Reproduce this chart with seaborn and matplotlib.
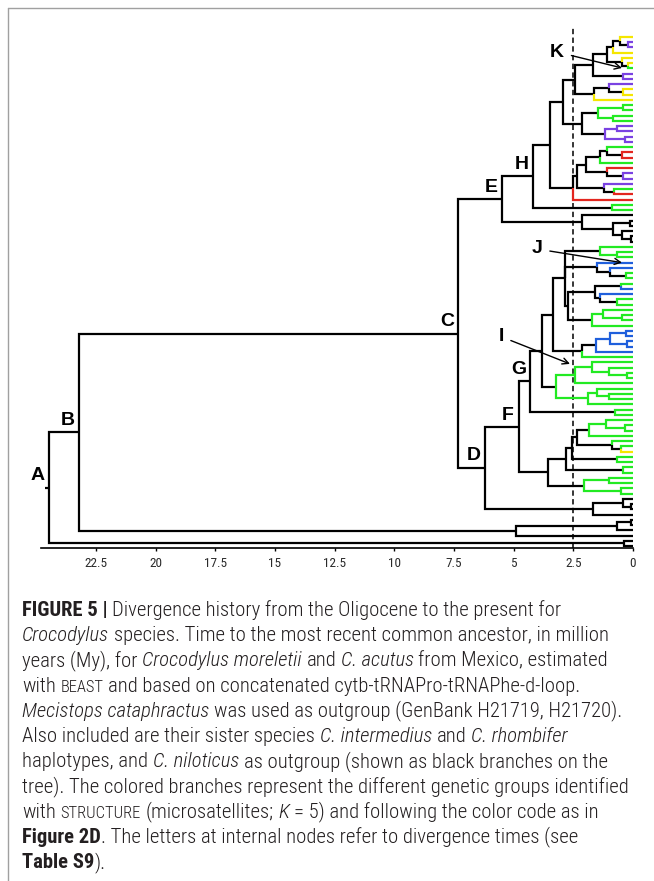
import matplotlib
matplotlib.use("Agg")
import matplotlib.pyplot as plt
from matplotlib.lines import Line2D
import seaborn as sns
import pandas as pd

# ---------------- data ----------------
# Clades in nested form: leaves are colour-group codes, ")x" is the node age in My.
clade_K = "((((y,(p,p)0.2)0.54,y)0.84,(y,(y,g)0.2)0.45)1.1,(p,p)0.4)1.68"
clade_H4 = "((p,(y,y)0.4)1.0,y)1.63"
clade_H8 = "(((g,g)0.4,(g,g)0.85)1.47,((p,p)0.65,(p,p)0.35)1.17)2.14"
clade_M = "(((((g,(r,r)0.45)1.09,g)1.38,(r,(p,p)0.4)1.09)1.97,(p,(g,r)0.8)1.2)2.35,r)2.51"
clade_H = f"(((({clade_K},{clade_H4})2.43,{clade_H8})2.93,{clade_M})3.48,(g,g)0.88)4.19"
clade_EB = "(k,((k,k)0.12,(k,(k,k)0.1)0.45)0.85)2.14"
clade_E = f"({clade_H},{clade_EB})5.49"

clade_G3 = "(g,(g,g)0.65)1.4"
clade_J = "(b,(b,(g,g)0.3)0.96)1.5"
clade_BG5 = "((g,b)0.5,(b,(g,g)0.65)1.4)1.6"
clade_G4 = "((g,(g,g)0.45)1.25,g)1.7"
clade_BG6 = "((((b,b)0.3,(b,b)0.25)0.95,b)1.55,g)2.14"
clade_I = "((g,(g,(g,g)0.25)1.0)1.7,g)2.43"
clade_G19 = "((g,(g,g)1.0)1.5,g)1.89"
clade_N285 = f"({clade_G3},{clade_J},({clade_BG5},{clade_G4})2.72)2.85"
clade_G = f"((({clade_N285},{clade_BG6})3.35,({clade_I},{clade_G19})3.22)3.81,(g,g)0.75)4.31"

clade_FB = "((((((g,(g,g)0.35)1.13,g)1.84,(g,(g,y)0.5)0.88)2.35,(g,g)0.65)2.56,(g,g)0.4)2.8,((g,g)1.0,(g,g)0.5)2.05)3.56"
clade_DB = "((k,(k,k)0.1)0.4,k)1.68"
clade_F = f"({clade_G},{clade_FB})4.78"
clade_D = f"({clade_F},{clade_DB})6.2"
clade_C = f"({clade_E},{clade_D})7.33"
clade_NIL = "(((k,k)0.1,k)0.65,k)4.9"
clade_B = f"({clade_C},{clade_NIL})23.2"
clade_MEC = "(k,k)0.38"
tree_text = f"({clade_B},{clade_MEC})24.47"

group_codes = ["k", "g", "p", "y", "r", "b"]
group_colors = ["#000000", "#22ea22", "#7a42e2", "#f5e600", "#e3261f", "#1f5fdc"]

node_labels = ["A", "B", "C", "D", "E", "F", "G", "H"]
node_label_ages = [24.47, 23.2, 7.33, 6.2, 5.49, 4.78, 4.31, 4.19]

arrow_labels = ["I", "J", "K"]
arrow_text_age = [5.53, 4.02, 3.18]
arrow_text_tip = [57.1, 40.4, 2.86]
arrow_head_age = [2.64, 0.46, 0.46]
arrow_head_tip = [62.3, 43.0, 5.9]

tick_values = [22.5, 20, 17.5, 15, 12.5, 10, 7.5, 5, 2.5, 0]
tick_labels = ["22.5", "20", "17.5", "15", "12.5", "10", "7.5", "5", "2.5", "0"]
threshold_age = 2.5
x_max_age = 24.8
root_stem = 0.17

caption_lines = [
    [("FIGURE 5 |", "b"), (" Divergence history from the Oligocene to the present for", "n")],
    [("Crocodylus", "i"), (" species. Time to the most recent common ancestor, in million", "n")],
    [("years (My), for ", "n"), ("Crocodylus moreletii", "i"), (" and ", "n"), ("C. acutus", "i"),
     (" from Mexico, estimated", "n")],
    [("with ", "n"), ("BEAST", "sc"), (" and based on concatenated cytb-tRNAPro-tRNAPhe-d-loop.", "n")],
    [("Mecistops cataphractus", "i"), (" was used as outgroup (GenBank H21719, H21720).", "n")],
    [("Also included are their sister species ", "n"), ("C. intermedius", "i"), (" and ", "n"),
     ("C. rhombifer", "i")],
    [("haplotypes, and ", "n"), ("C. niloticus", "i"), (" as outgroup (shown as black branches on the", "n")],
    [("tree). The colored branches represent the different genetic groups identified", "n")],
    [("with ", "n"), ("STRUCTURE", "sc"), (" (microsatellites; ", "n"), ("K", "i"),
     (" = 5) and following the color code as in", "n")],
    [("Figure 2D", "b"), (". The letters at internal nodes refer to divergence times (see", "n")],
    [("Table S9", "b"), (").", "n")],
]

# ---------------- parse + layout ----------------
def parse(s):
    pos = 0

    def node():
        nonlocal pos
        if s[pos] == "(":
            pos += 1
            kids = [node()]
            while s[pos] == ",":
                pos += 1
                kids.append(node())
            pos += 1  # ')'
            j = pos
            while pos < len(s) and (s[pos].isdigit() or s[pos] == "."):
                pos += 1
            return {"kids": kids, "age": float(s[j:pos])}
        g = s[pos]
        pos += 1
        return {"kids": [], "age": 0.0, "grp": g}

    return node()


root = parse(tree_text)
counter = [0]
all_nodes = []


def layout(n):
    all_nodes.append(n)
    if not n["kids"]:
        n["y"] = counter[0]
        counter[0] += 1
        n["grps"] = {n["grp"]}
    else:
        for k in n["kids"]:
            layout(k)
        n["y"] = (n["kids"][0]["y"] + n["kids"][-1]["y"]) / 2
        n["grps"] = set().union(*[k["grps"] for k in n["kids"]])
    n["mono"] = next(iter(n["grps"])) if len(n["grps"]) == 1 else "k"


layout(root)
n_tips = counter[0]

rows = []
seg = 0
for n in all_nodes:
    for c in n["kids"]:
        col = c["grp"] if not c["kids"] else n["mono"]
        for a, yy in [(n["age"], n["y"]), (n["age"], c["y"]), (c["age"], c["y"])]:
            rows.append({"seg": seg, "age": a, "y": yy, "grp": col})
        seg += 1
for a in [root["age"] + root_stem, root["age"]]:
    rows.append({"seg": seg, "age": a, "y": root["y"], "grp": "k"})
df = pd.DataFrame(rows)

# ---------------- figure ----------------
sns.set_theme(style="white")
plt.rcParams["font.family"] = ["Liberation Sans", "DejaVu Sans"]
cond = ["Roboto Condensed", "Liberation Sans", "DejaVu Sans"]

W, H = 654, 881
fig = plt.figure(figsize=(W / 100, H / 100), dpi=100)
ax = fig.add_axes([41 / W, 1 - 548 / H, (633 - 41) / W, (548 - 28) / H])

pal = dict(zip(group_codes, group_colors))
present = [g for g in group_codes if g in set(df["grp"])]
sns.lineplot(data=df, x="age", y="y", hue="grp", units="seg", estimator=None, sort=False,
             palette=pal, hue_order=present, legend=False, lw=1.6, ax=ax)
for ln in ax.lines:
    ln.set_clip_on(False)
    ln.set_solid_joinstyle("miter")
    ln.set_solid_capstyle("butt")

ax.axvline(threshold_age, color="black", lw=1.1, ls=(0, (3.5, 2.2)), zorder=0)

s = (546 - 37) / (n_tips - 1)
ax.set_ylim((548 - 37) / s, (28 - 37) / s)
ax.set_xlim(x_max_age, 0)
ax.set_xlabel("")
ax.set_ylabel("")
ax.set_yticks([])
ax.set_xticks(tick_values)
ax.set_xticklabels(tick_labels, family=cond, fontsize=9.5, color="#2a2a2a")
ax.tick_params(axis="x", length=2.5, width=1, direction="out", pad=4, color="black", bottom=True)
for side in ["left", "top", "right"]:
    ax.spines[side].set_visible(False)
ax.spines["bottom"].set_linewidth(1.2)
ax.spines["bottom"].set_color("black")
ax.patch.set_alpha(0)

# node letters
by_age = {round(n["age"], 3): n for n in all_nodes if n["kids"]}
for lab, a in zip(node_labels, node_label_ages):
    n = by_age[round(a, 3)]
    ax.annotate(lab, xy=(n["age"], n["y"]), xytext=(-8, 8.6), textcoords="offset points",
                ha="center", va="center", fontsize=14, fontweight="bold", color="black")
for lab, ta, tt, ha_, ht in zip(arrow_labels, arrow_text_age, arrow_text_tip, arrow_head_age, arrow_head_tip):
    ax.annotate(lab, xy=(ha_, ht), xytext=(ta, tt), textcoords="data", ha="center", va="center",
                fontsize=14, fontweight="bold", color="black", annotation_clip=False,
                arrowprops=dict(arrowstyle="->", lw=1.0, color="black", shrinkA=3, shrinkB=0,
                                mutation_scale=11))

# page frame
fig.add_artist(Line2D([8 / W, 1], [1 - 8 / H, 1 - 8 / H], transform=fig.transFigure, color="#a0a0a0", lw=1))
fig.add_artist(Line2D([8 / W, 8 / W], [0, 1 - 8 / H], transform=fig.transFigure, color="#a0a0a0", lw=1))

# caption
renderer = fig.canvas.get_renderer()
cap_color = "#231f20"
cap_weight = 300


def measure(text, size, **kw):
    t = fig.text(0, 0, text, fontsize=size, family=cond, **kw)
    w = t.get_window_extent(renderer).width
    t.remove()
    return w


# fit the widest caption line to its width in the reference (x 22 -> 628)
base = 14.0
w8 = measure(caption_lines[7][0][0], base, fontweight=cap_weight)
cap_size = min(15.5, base * (628 - 22) / w8)
sp_full = measure("a a", cap_size, fontweight=cap_weight) - measure("aa", cap_size, fontweight=cap_weight)

for li, segs in enumerate(caption_lines):
    x = 22
    yb = H - (616 + li * 25.2)
    for txt, st in segs:
        lead = len(txt) - len(txt.lstrip(" "))
        trail = len(txt) - len(txt.rstrip(" "))
        core = txt.strip(" ")
        size = cap_size * 0.8 if st == "sc" else cap_size
        x += lead * sp_full
        t = fig.text(x / W, yb / H, core, fontsize=size, family=cond,
                     fontweight="bold" if st == "b" else cap_weight,
                     fontstyle="italic" if st == "i" else "normal",
                     ha="left", va="baseline", color=cap_color)
        x = t.get_window_extent(renderer).x1 + trail * sp_full

fig.savefig("out.png", dpi=100)
